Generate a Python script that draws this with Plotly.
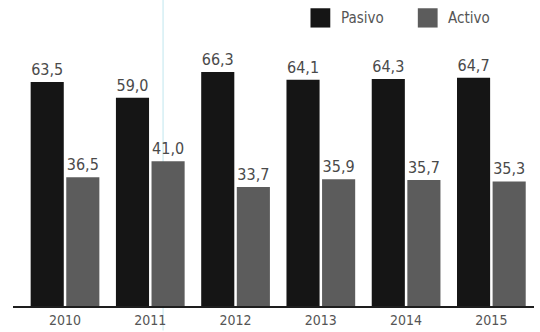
import plotly.graph_objects as go

years = ["2010", "2011", "2012", "2013", "2014", "2015"]
pasivo = [63.5, 59.0, 66.3, 64.1, 64.3, 64.7]
activo = [36.5, 41.0, 33.7, 35.9, 35.7, 35.3]
series_names = ["Pasivo", "Activo"]
colors = ["#151515", "#5c5c5c"]

def fmt(v):
    return f"{v:.1f}".replace(".", ",")

FONT = "DejaVu Sans Condensed, Roboto, sans-serif"

fig = go.Figure()
for name, vals, col in zip(series_names, [pasivo, activo], colors):
    fig.add_trace(go.Bar(
        x=years, y=vals, name=name, marker_color=col,
        marker_line_width=0,
        text=[fmt(v) for v in vals], textposition="outside",
        textfont=dict(family=FONT, size=16, color="#4a4a4a"),
        cliponaxis=False, showlegend=False, hoverinfo="skip",
    ))

fig.update_layout(
    width=540, height=332,
    margin=dict(l=13, r=6, t=0, b=26),
    paper_bgcolor="white", plot_bgcolor="white",
    barmode="group", bargap=0.165, bargroupgap=0.07,
    xaxis=dict(
        type="category", range=[-0.61, 5.5],
        showline=True, linecolor="#1e1e1e", linewidth=2,
        ticks="", showgrid=False,
        tickfont=dict(family=FONT, size=14, color="#555555"),
    ),
    yaxis=dict(range=[0, 86.7], visible=False, showgrid=False),
)

# faint scan line (artifact in reference)
fig.add_shape(type="line", xref="paper", yref="paper", x0=0.288, x1=0.288,
              y0=-0.08, y1=1, line=dict(color="#bfe6ee", width=1), layer="below")

# custom legend
leg = [(0.571, series_names[0], colors[0]), (0.777, series_names[1], colors[1])]
for x0, name, col in leg:
    fig.add_shape(type="rect", xref="paper", yref="paper",
                  x0=x0, x1=x0 + 0.038, y0=0.91, y1=0.973,
                  fillcolor=col, line_width=0)
    fig.add_annotation(xref="paper", yref="paper", x=x0 + 0.055, y=0.942,
                       text=name, showarrow=False, xanchor="left", yanchor="middle",
                       font=dict(family=FONT, size=15, color="#555555"))

fig.write_html("out.html", config={"displayModeBar": False, "staticPlot": True})

with open("out.html", "r", encoding="utf-8") as f:
    html = f.read()
html = html.replace("<head>", "<head><style>html,body{margin:0;padding:0;overflow:hidden}</style>", 1)
with open("out.html", "w", encoding="utf-8") as f:
    f.write(html)
